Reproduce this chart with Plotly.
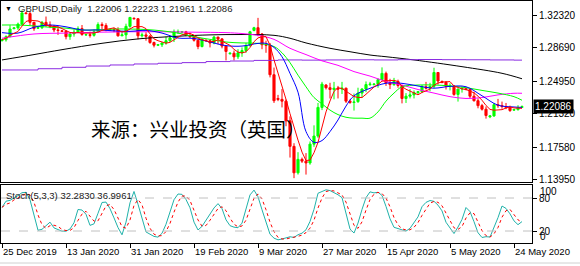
import plotly.graph_objects as go
import pandas as pd

W, H = 580, 266

# ---------------- data ----------------
tick_idx = [0, 16, 32, 48, 64, 80, 96, 112, 128]
tick_text = ["25 Dec 2019", "13 Jan 2020", "31 Jan 2020", "19 Feb 2020", "9 Mar 2020",
             "27 Mar 2020", "15 Apr 2020", "5 May 2020", "24 May 2020"]

opens = [1.2945,1.2955,1.2990,1.3080,1.3088,1.3130,1.3255,1.3248,1.3150,1.3085,
         1.3090,1.3150,1.3120,1.3105,1.3065,1.3055,1.3050,1.2990,1.3020,1.3040,
         1.3080,1.3010,1.3012,1.3005,1.3045,1.3125,1.3115,1.3060,1.3068,1.3065,
         1.3000,1.3010,1.3105,1.3195,1.3190,1.3000,1.3010,1.2995,1.2925,1.2895,
         1.2900,1.2920,1.2945,1.2975,1.3045,1.3040,1.3045,1.3005,1.2990,1.2950,
         1.2880,1.2950,1.2945,1.2920,1.2985,1.2965,1.2885,1.2800,1.2805,1.2765,
         1.2810,1.2835,1.2890,1.3060,1.3090,1.3020,1.2900,1.2895,1.2565,1.2300,
         1.2290,1.2270,1.2050,1.1765,1.1470,1.1620,1.1600,1.1580,1.1790,1.1880,
         1.2200,1.2450,1.2420,1.2400,1.2415,1.2405,1.2415,1.2270,1.2255,1.2265,
         1.2360,1.2405,1.2455,1.2455,1.2460,1.2510,1.2580,1.2475,1.2455,1.2490,
         1.2445,1.2300,1.2325,1.2340,1.2365,1.2375,1.2430,1.2415,1.2435,1.2590,
         1.2490,1.2480,1.2435,1.2440,1.2345,1.2405,1.2410,1.2400,1.2325,1.2275,
         1.2220,1.2180,1.2095,1.2105,1.2230,1.2220,1.2210,1.2200,1.2170,1.2175,
         1.22006]
highs = [1.2965,1.3005,1.3118,1.3092,1.3147,1.3285,1.3265,1.3266,1.3155,1.3095,
         1.3166,1.3215,1.3160,1.3120,1.3105,1.3065,1.3060,1.3030,1.3070,1.3105,
         1.3120,1.3020,1.3045,1.3070,1.3150,1.3150,1.3140,1.3075,1.3090,1.3095,
         1.3055,1.3135,1.3210,1.3205,1.3195,1.3035,1.3040,1.3010,1.2935,1.2905,
         1.2925,1.2990,1.2990,1.3070,1.3070,1.3050,1.3055,1.3035,1.3000,1.2955,
         1.2975,1.2960,1.2950,1.3000,1.2990,1.2975,1.2895,1.2815,1.2835,1.2850,
         1.2870,1.2920,1.3055,1.3100,1.3200,1.3030,1.2945,1.2920,1.2645,1.2340,
         1.2405,1.2290,1.2100,1.1800,1.1700,1.1640,1.1690,1.1820,1.2000,1.2250,
         1.2485,1.2460,1.2475,1.2485,1.2440,1.2485,1.2420,1.2290,1.2355,1.2420,
         1.2415,1.2490,1.2485,1.2470,1.2525,1.2647,1.2600,1.2520,1.2530,1.2510,
         1.2450,1.2360,1.2405,1.2390,1.2380,1.2450,1.2485,1.2475,1.2643,1.2595,
         1.2500,1.2495,1.2470,1.2445,1.2410,1.2435,1.2420,1.2405,1.2375,1.2300,
         1.2240,1.2210,1.2110,1.2250,1.2295,1.2265,1.2250,1.2220,1.2180,1.2225,
         1.22223]
lows = [1.2938,1.2935,1.2985,1.3072,1.3065,1.3120,1.3240,1.3118,1.3055,1.3075,
        1.3075,1.3100,1.3085,1.3040,1.3010,1.3045,1.2960,1.2955,1.2990,1.3030,
        1.3000,1.3000,1.2980,1.2990,1.3040,1.3070,1.3050,1.3055,1.3040,1.2990,
        1.2995,1.2960,1.3090,1.3185,1.2960,1.2980,1.2945,1.2910,1.2870,1.2885,
        1.2875,1.2900,1.2930,1.2930,1.3020,1.3035,1.2995,1.2975,1.2935,1.2850,
        1.2870,1.2940,1.2870,1.2905,1.2905,1.2860,1.2725,1.2790,1.2725,1.2740,
        1.2765,1.2810,1.2880,1.3050,1.2995,1.2850,1.2810,1.2535,1.2250,1.2270,
        1.2200,1.1990,1.1640,1.1410,1.1450,1.1580,1.1450,1.1560,1.1760,1.1860,
        1.2170,1.2400,1.2300,1.2290,1.2300,1.2350,1.2250,1.2240,1.2165,1.2250,
        1.2310,1.2370,1.2440,1.2445,1.2420,1.2505,1.2440,1.2405,1.2440,1.2420,
        1.2245,1.2250,1.2300,1.2300,1.2350,1.2360,1.2400,1.2380,1.2415,1.2455,
        1.2470,1.2400,1.2390,1.2330,1.2265,1.2365,1.2390,1.2300,1.2265,1.2190,
        1.2165,1.2075,1.2080,1.2095,1.2195,1.2185,1.2180,1.2150,1.2160,1.2165,
        1.21961]
closes = [1.2955,1.2990,1.3075,1.3088,1.3130,1.3255,1.3248,1.3150,1.3080,1.3090,
          1.3150,1.3120,1.3105,1.3065,1.3060,1.3050,1.2990,1.3020,1.3040,1.3080,
          1.3015,1.3012,1.3005,1.3045,1.3125,1.3115,1.3070,1.3068,1.3065,1.3000,
          1.3010,1.3105,1.3205,1.3190,1.3000,1.3010,1.2995,1.2925,1.2895,1.2900,
          1.2920,1.2945,1.2975,1.3045,1.3045,1.3045,1.3005,1.2990,1.2950,1.2880,
          1.2960,1.2945,1.2920,1.2985,1.2965,1.2885,1.2825,1.2805,1.2765,1.2810,
          1.2835,1.2890,1.3045,1.3090,1.3020,1.2900,1.2895,1.2565,1.2275,1.2290,
          1.2270,1.2050,1.1765,1.1470,1.1620,1.1600,1.1580,1.1790,1.1880,1.2200,
          1.2460,1.2420,1.2400,1.2415,1.2405,1.2415,1.2270,1.2255,1.2260,1.2360,
          1.2405,1.2455,1.2460,1.2460,1.2510,1.2580,1.2475,1.2455,1.2490,1.2445,
          1.2300,1.2325,1.2340,1.2365,1.2375,1.2430,1.2415,1.2435,1.2590,1.2495,
          1.2480,1.2435,1.2440,1.2345,1.2405,1.2410,1.2400,1.2325,1.2275,1.2220,
          1.2180,1.2110,1.2105,1.2230,1.2220,1.2210,1.2200,1.2165,1.2175,1.2200,
          1.22086]

# moving-average lines (bar index, price)
blue_idx = [0,4,8,12,16,20,24,28,32,36,40,44,48,52,56,60,64,66,68,70,72,74,76,78,80,82,84,86,88,92,96,100,104,108,112,116,120,124,128,130]
blue_val = [1.3035,1.3030,1.3095,1.3120,1.3100,1.3065,1.3065,1.3055,1.3050,1.3060,1.3030,1.2975,1.2970,1.2930,1.2890,1.2885,1.2915,1.2915,1.2870,1.2766,1.2580,1.2370,1.1930,1.1810,1.1830,1.1930,1.2060,1.2215,1.2330,1.2413,1.2470,1.2469,1.2439,1.2415,1.2435,1.2431,1.2330,1.2225,1.2205,1.2200]
green_idx = [0,4,8,12,16,20,24,28,32,36,40,44,48,52,56,60,64,68,70,72,74,76,78,80,82,84,86,88,90,92,94,96,98,100,104,108,112,116,120,124,128,130]
green_val = [1.3120,1.3120,1.3110,1.3095,1.3085,1.3065,1.3065,1.3075,1.3075,1.3070,1.3055,1.3030,1.2990,1.2960,1.2930,1.2920,1.2915,1.2880,1.2810,1.2700,1.2560,1.2430,1.2310,1.2240,1.2170,1.2120,1.2090,1.2080,1.2080,1.2080,1.2150,1.2270,1.2360,1.2430,1.2450,1.2450,1.2440,1.2420,1.2390,1.2360,1.2320,1.2280]
magenta_idx = [0,8,16,24,32,40,48,56,60,64,68,72,76,80,84,88,92,96,100,104,108,112,116,120,124,128,130]
magenta_val = [1.2972,1.3020,1.3030,1.3040,1.3045,1.3045,1.3040,1.3035,1.3025,1.3005,1.2960,1.2860,1.2790,1.2720,1.2670,1.2600,1.2550,1.2490,1.2450,1.2400,1.2360,1.2320,1.2300,1.2310,1.2340,1.2358,1.2358]
black_idx = [0,8,15,25,34,44,52,60,68,72,76,82,87,92,96,103,115,125,130]
black_val = [1.2730,1.2790,1.2845,1.2916,1.2965,1.2995,1.3010,1.3014,1.3005,1.2972,1.2920,1.2860,1.2822,1.2785,1.2766,1.2730,1.2655,1.2581,1.2520]
purple_idx = [0,3,9,15,21,27,33,39,45,51,57,63,69,75,81,87,93,99,104,110,116,122,128,130]
purple_val = [1.2618,1.2618,1.2632,1.2648,1.2662,1.2674,1.2685,1.2693,1.2700,1.2712,1.2718,1.2725,1.2730,1.2728,1.2730,1.2732,1.2730,1.2733,1.2735,1.2733,1.2732,1.2730,1.2728,1.2728]

price_ticks = [1.32320, 1.28690, 1.24950, 1.21320, 1.17580, 1.13950]
last_price = 1.22086

# ---------------- derived indicators ----------------
idx = list(range(len(closes)))
df = pd.DataFrame({"o": opens, "h": highs, "l": lows, "c": closes})
ma5 = df["c"].rolling(5, min_periods=1).mean()
ll = df["l"].rolling(5, min_periods=1).min()
hh = df["h"].rolling(5, min_periods=1).max()
k = 100 * (df["c"] - ll).rolling(3, min_periods=1).sum() / (hh - ll).rolling(3, min_periods=1).sum()
d = k.rolling(3, min_periods=1).mean()

# ---------------- geometry ----------------
def px(x):
    return x / W

def py(y):
    return 1 - y / H

X0, X1 = 1, 532
MAIN_T, MAIN_B = 1, 182
SUB_T, SUB_B = 185, 243
xr = [(X0 - 2) / 4, (X1 - 2) / 4]
p_per_px = 0.0011167
main_range = [1.32320 - (MAIN_B - 15) * p_per_px, 1.32320 + (15 - MAIN_T) * p_per_px]
s_per_px = 100 / 55.0
sub_range = [-(SUB_B - 242) * s_per_px, (242 - SUB_T) * s_per_px]

GREEN = "#00ff00"
RED = "#ff0000"

fig = go.Figure()
fig.add_trace(go.Candlestick(
    x=idx, open=opens, high=highs, low=lows, close=closes,
    increasing=dict(line=dict(color=GREEN, width=1), fillcolor=GREEN),
    decreasing=dict(line=dict(color=RED, width=1), fillcolor=RED),
    whiskerwidth=0, xaxis="x", yaxis="y", showlegend=False))

def line(xs, ys, color, shape="linear", ax=("x", "y"), dash=None):
    fig.add_trace(go.Scatter(x=xs, y=ys, mode="lines", xaxis=ax[0], yaxis=ax[1],
                             line=dict(color=color, width=1, shape=shape, dash=dash),
                             showlegend=False, hoverinfo="skip"))

line(black_idx, black_val, "#000000", "spline")
line(purple_idx, purple_val, "#8a2be2", "hv")
line(magenta_idx, magenta_val, "#ff00ff", "spline")
line(green_idx, green_val, GREEN, "spline")
line(blue_idx, blue_val, "#0000ff", "spline")
line(idx, list(ma5), RED)

line(idx, list(k), "#20b2aa", ax=("x2", "y2"))
line(idx, list(d), RED, ax=("x2", "y2"), dash="dot")

axis_common = dict(showgrid=False, zeroline=False, showline=True, mirror=True,
                   linecolor="#000000", linewidth=1, automargin=False)
fig.update_layout(
    width=W, height=H, margin=dict(l=0, r=0, t=0, b=0, autoexpand=False),
    paper_bgcolor="white", plot_bgcolor="white", boxgap=0.25,
    font=dict(family="Liberation Sans, Arial, sans-serif", color="#000000"),
    xaxis=dict(domain=[px(X0), px(X1)], range=xr, anchor="y", showticklabels=False,
               ticks="", rangeslider=dict(visible=False), **axis_common),
    yaxis=dict(domain=[py(MAIN_B), py(MAIN_T)], range=main_range, anchor="x", side="right",
               tickvals=price_ticks, ticktext=["%.5f" % v for v in price_ticks],
               ticks="outside", ticklen=4, tickcolor="#000000",
               tickfont=dict(size=10, color="#000000"), **axis_common),
    xaxis2=dict(domain=[px(X0), px(X1)], range=xr, anchor="y2", tickvals=tick_idx,
                ticktext=tick_text, ticks="outside", ticklen=4, tickcolor="#000000",
                tickangle=0, ticklabelposition="outside right", ticklabeloverflow="allow",
                tickfont=dict(size=9.5, color="#000000"), **axis_common),
    yaxis2=dict(domain=[py(SUB_B), py(SUB_T)], range=sub_range, anchor="x2", side="right",
                tickvals=[80, 20], ticktext=["80", "20"], ticks="outside", ticklen=4,
                tickcolor="#000000", tickfont=dict(size=10, color="#000000"), **axis_common),
    showlegend=False,
)

# level lines of the stochastic window
for lv in (80, 20):
    fig.add_shape(type="line", xref="x2", yref="y2", x0=xr[0], x1=xr[1], y0=lv, y1=lv,
                  line=dict(color="#c0c0c0", width=1, dash="dash"))

# bottom gray edge
fig.add_shape(type="line", xref="paper", yref="paper", x0=0, x1=1, y0=py(263), y1=py(263),
              line=dict(color="#d0d0d0", width=1))

ann = []
ann.append(dict(x=px(3), y=py(8), xref="paper", yref="paper", text="▼", showarrow=False,
                xanchor="left", yanchor="middle", font=dict(size=7, color="#000000")))
ann.append(dict(x=px(16), y=py(8), xref="paper", yref="paper",
                text="GBPUSD,Daily  1.22006 1.22223 1.21961 1.22086", showarrow=False,
                xanchor="left", yanchor="middle", font=dict(size=9.5, color="#1a1a1a")))
ann.append(dict(x=px(4), y=py(195), xref="paper", yref="paper",
                text="Stoch(5,3,3) 32.2830 36.9961", showarrow=False,
                xanchor="left", yanchor="middle", font=dict(size=9.5, color="#1a1a1a")))
ann.append(dict(x=px(198), y=py(128), xref="paper", yref="paper",
                text="来源：兴业投资（英国）", showarrow=False, xanchor="center", yanchor="middle",
                font=dict(size=19.5, color="#000000", family="Noto Sans CJK SC")))
ann.append(dict(x=px(533), y=last_price, xref="paper", yref="y", text="%.5f" % last_price,
                showarrow=False, xanchor="left", yanchor="middle", bgcolor="#000000",
                font=dict(size=10, color="#ffffff"), borderpad=1))
ann.append(dict(x=px(538), y=py(191), xref="paper", yref="paper", text="100", showarrow=False,
                xanchor="left", yanchor="middle", font=dict(size=10, color="#000000")))
ann.append(dict(x=px(538), y=py(236), xref="paper", yref="paper", text="0", showarrow=False,
                xanchor="left", yanchor="middle", font=dict(size=10, color="#000000")))
fig.update_layout(annotations=ann)

fig.write_html("out.html", config={"displayModeBar": False})
